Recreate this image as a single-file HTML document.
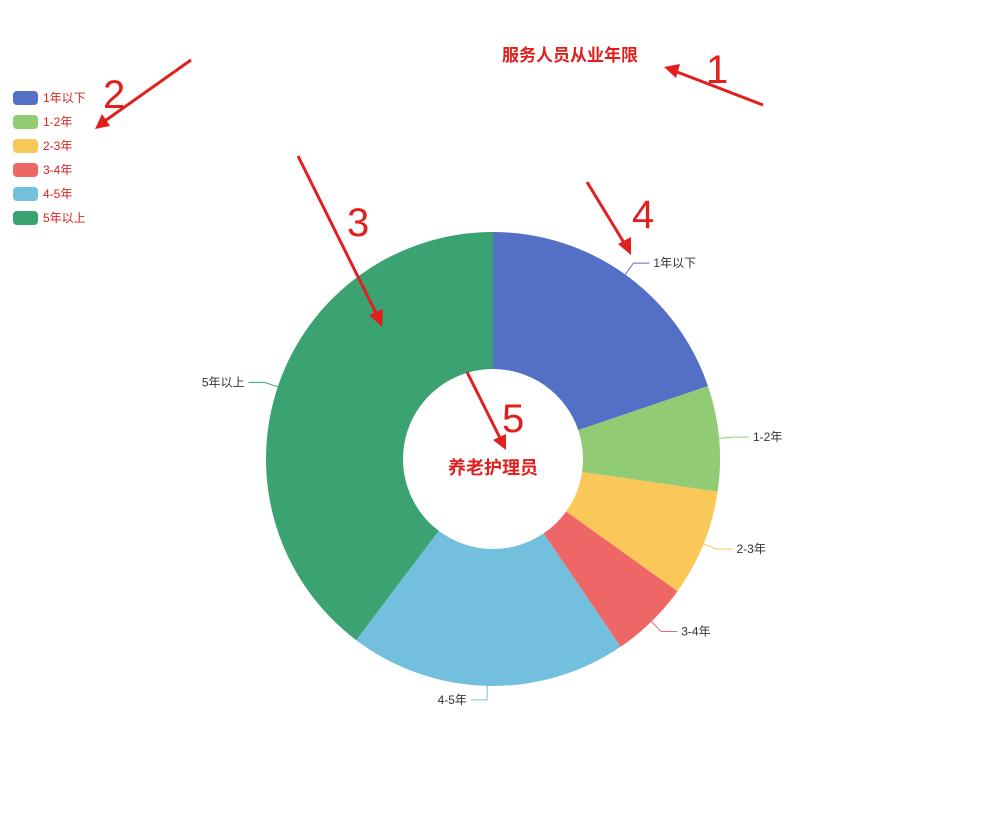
<!DOCTYPE html>
<html><head><meta charset="utf-8">
<style>
body{margin:0;background:#fff;}
svg{display:block;font-family:"Liberation Sans","Noto Sans CJK SC",sans-serif;}
</style></head>
<body>
<svg id="chart" width="989" height="832">
<text x="570" y="61" text-anchor="middle" font-size="17" font-weight="bold" fill="#e0201e">服务人员从业年限</text>
<g id="legend"></g>
<g id="slices"></g>
<g id="labels"></g>
<text x="493" y="474" text-anchor="middle" font-size="18" font-weight="bold" fill="#e0201e">养老护理员</text>
<g stroke="#e0201e" stroke-width="3" fill="#e0201e">
<line x1="763" y1="105" x2="672" y2="70"/><polygon points="664,67 680,64 676,78" stroke="none"/>
<line x1="191" y1="60" x2="102" y2="123"/><polygon points="95,129 102,114 110,126" stroke="none"/>
<line x1="298" y1="156" x2="378" y2="317"/><polygon points="382,327 369,315 383,309" stroke="none"/>
<line x1="587" y1="182" x2="626" y2="246"/><polygon points="631,255 618,244 631,237" stroke="none"/>
<line x1="467" y1="372" x2="501" y2="440"/><polygon points="506,450 493,440 506,434" stroke="none"/>
<g stroke="none" font-size="40" font-family="Liberation Sans, sans-serif">
<text x="706" y="83">1</text><text x="103" y="108">2</text><text x="347" y="236">3</text><text x="632" y="228">4</text><text x="502" y="432">5</text>
</g></g>
</svg>
<script>
const categories=["1年以下","1-2年","2-3年","3-4年","4-5年","5年以上"];
const values=[19.8,7.5,7.6,5.6,19.8,39.7];
const colors=["#5470c6","#91cc75","#fac858","#ee6666","#73c0de","#3ba272"];
const NS="http://www.w3.org/2000/svg";
const cx=493,cy=459,R=227,r=90;
function mk(t,a,p){const e=document.createElementNS(NS,t);for(const k in a)e.setAttribute(k,a[k]);p.appendChild(e);return e;}
function pt(rad,ang){return [cx+rad*Math.sin(ang),cy-rad*Math.cos(ang)];}
const total=values.reduce((a,b)=>a+b,0);
let a0=0;
const sg=document.getElementById('slices'),lg=document.getElementById('labels'),leg=document.getElementById('legend');
values.forEach((v,i)=>{
 const a1=a0+v/total*2*Math.PI;
 const [x0,y0]=pt(R,a0),[x1,y1]=pt(R,a1),[x2,y2]=pt(r,a1),[x3,y3]=pt(r,a0);
 const big=(a1-a0)>Math.PI?1:0;
 const p=mk('path',{d:`M${x0},${y0}A${R},${R} 0 ${big} 1 ${x1},${y1}L${x2},${y2}A${r},${r} 0 ${big} 0 ${x3},${y3}Z`,fill:colors[i]},sg);
 
 
 const m=(a0+a1)/2;
 const [lx0,ly0]=pt(R,m),[lx1,ly1]=pt(R+14,m);
 const right=Math.sin(m)>=0;
 const lx2=lx1+(right?16:-16);
 const l=mk('polyline',{points:`${lx0},${ly0} ${lx1},${ly1} ${lx2},${ly1}`,fill:'none',stroke:colors[i],'stroke-width':1},lg);
 
 
 const t=mk('text',{x:lx2+(right?4:-4),y:ly1+4,'font-size':12,fill:'#333','text-anchor':right?'start':'end'},lg);
 t.textContent=categories[i];
 
 
 const g=mk('g',{},leg);
 
 
 mk('rect',{x:13,y:91+24*i,width:25,height:14,rx:4,fill:colors[i]},g);
 const lt=mk('text',{x:43,y:102+24*i,'font-size':12,fill:'#e0201e'},g);
 lt.textContent=categories[i];
 a0=a1;
});
</script>
</body></html>
